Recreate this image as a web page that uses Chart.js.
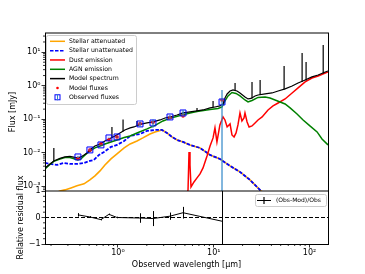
<!DOCTYPE html>
<html>
<head>
<meta charset="utf-8">
<script src="https://cdn.jsdelivr.net/npm/chart.js@4.4.1/dist/chart.umd.min.js"></script>
<style>
  html, body { margin: 0; padding: 0; background: #fff; }
  #wrap { width: 365px; height: 274px; }
</style>
</head>
<body>
<div id="wrap"><canvas id="sedChart" width="365" height="274"></canvas></div>
<script>
// Model spectrum (continuum), wavelength in micron, flux in mJy
const modelWave = [0.173,0.195,0.214,0.248,0.279,0.315,0.355,0.382,0.410,0.442,0.474,0.522,0.575,0.649,0.731,0.845,0.930,1.05,1.18,1.34,1.47,1.70,2.01,2.32,2.75,3.10,3.49,4.14,4.78,5.65,6.69,7.73,9.15,10.3,11.6,12.5,13.1,13.8,14.8,15.9,17.5,18.8,21.2,22.8,24.5,27.0,29.0,34.4,40.6,47.0,55.6,65.8,76.0,90.0,106,123,146,156];
const modelFlux = [0.00355,0.00467,0.00574,0.00681,0.00755,0.00782,0.00730,0.00705,0.00755,0.00865,0.00993,0.0131,0.0160,0.0184,0.0226,0.0278,0.0318,0.0391,0.0481,0.0551,0.0590,0.0700,0.0776,0.0831,0.0953,0.109,0.117,0.134,0.154,0.165,0.177,0.189,0.217,0.232,0.249,0.285,0.430,0.566,0.695,0.745,0.695,0.606,0.461,0.402,0.416,0.493,0.528,0.566,0.606,0.695,0.80,0.98,1.20,1.48,1.82,2.08,2.56,2.74];

// Emission lines on top of the model spectrum
const lineWave = [0.214,0.865,1.13,1.58,6.69,9.84,16.7,25.1,30.5,54.3,83.7,92.1,139];
const lineBase = [0.00574,0.0287,0.0434,0.0654,0.177,0.225,0.72,0.416,0.528,0.77,1.29,1.43,2.31];
const linePeak = [0.0140,0.059,0.0986,0.089,0.217,0.351,1.20,1.29,1.48,3.86,9.4,5.07,16.3];

// AGN emission
const agnWave = [0.173,0.195,0.214,0.248,0.279,0.315,0.355,0.382,0.410,0.442,0.474,0.522,0.575,0.649,0.731,0.845,0.977,1.16,1.34,1.58,2.01,2.44,2.95,3.49,4.45,5.65,6.69,9.15,11.1,12.2,13.1,14.1,15.5,17.1,18.8,21.2,22.8,25.1,29.0,34.4,38.7,49.3,55.6,62.7,74.1,85.7,101,120,135,156];
const agnFlux = [0.00332,0.00452,0.00555,0.00658,0.00730,0.00730,0.00658,0.00615,0.00658,0.00809,0.00960,0.0118,0.0140,0.0160,0.0184,0.0211,0.0242,0.0287,0.0318,0.0391,0.0515,0.0654,0.0890,0.106,0.130,0.154,0.171,0.196,0.210,0.232,0.351,0.493,0.628,0.586,0.493,0.375,0.327,0.363,0.446,0.461,0.430,0.327,0.285,0.217,0.144,0.0953,0.0632,0.0419,0.0259,0.0172];

// Dust emission
const dustWave = [5.26,5.39,5.52,5.65,5.79,6.22,6.69,7.19,7.73,8.51,9.15,9.84,10.3,10.8,11.6,12.5,13.1,13.8,14.8,15.5,16.3,17.1,17.9,18.8,19.7,20.7,21.2,22.3,23.4,25.1,27.0,29.0,32.0,36.9,41.6,47.0,55.6,65.8,76.0,90.0,106,123,146,156];
const dustFlux = [0.000551,0.000787,0.0106,0.00436,0.000966,0.00136,0.00179,0.00236,0.00355,0.00809,0.0160,0.0278,0.0551,0.0211,0.0677,0.117,0.0953,0.0590,0.0725,0.0341,0.0297,0.0391,0.0677,0.154,0.0891,0.109,0.154,0.0831,0.0590,0.0632,0.0776,0.0953,0.117,0.189,0.249,0.305,0.402,0.606,0.855,1.29,1.69,1.94,2.39,2.56];

// Stellar unattenuated
const unattWave = [0.173,0.195,0.231,0.273,0.315,0.373,0.442,0.509,0.561,0.633,0.714,0.845,0.977,1.16,1.34,1.70,2.01,2.44,2.88,3.25,3.66,4.14,4.78,5.65,7.19,9.15,11.6,14.8,18.8,23.9,31.1,38.7];
const unattFlux = [0.00500,0.00467,0.00436,0.00500,0.00467,0.00467,0.00500,0.00574,0.00615,0.00865,0.0106,0.0150,0.0172,0.0226,0.0318,0.0365,0.0449,0.0481,0.0481,0.0391,0.0297,0.0242,0.0211,0.0172,0.0140,0.00865,0.00658,0.00407,0.00270,0.00156,0.000734,0.000455];

// Stellar attenuated
const attWave = [0.214,0.248,0.279,0.323,0.373,0.442,0.509,0.575,0.649,0.731,0.845,0.977,1.16,1.34,1.58,1.82,2.16,2.44,2.88,3.25,3.66,4.14,4.78,5.65,7.19,9.15,11.6,14.8,18.8,23.9,31.1,38.7];
const attFlux = [0.000598,0.000734,0.000787,0.000902,0.00104,0.00119,0.00156,0.00205,0.00289,0.00436,0.00658,0.00927,0.0140,0.0184,0.0226,0.0278,0.0365,0.0419,0.0481,0.0391,0.0297,0.0242,0.0211,0.0172,0.0140,0.00865,0.00658,0.00407,0.00270,0.00156,0.000734,0.000455];

// Photometry
const obsWave = [0.382,0.509,0.664,0.805,0.977,1.70,2.32,3.49,4.78,12.2];
const obsFlux = [0.00755,0.0122,0.0172,0.0278,0.0297,0.0725,0.0776,0.117,0.154,0.327];
const obsErr = [0.0005,0.0004,0.0005,0.0008,0.0009,0.013,0.022,0.016,0.034,0.42];
const modelPts = [0.0068,0.0120,0.0186,0.0245,0.0297,0.0740,0.0807,0.111,0.126,0.373];
const residual = [0.10,0.02,-0.08,0.12,0.0,-0.02,-0.04,0.05,0.18,-0.14];

// Ticks
const xMajor = [1, 10, 100];
const xLabels = ["10\u2070", "10\u00b9", "10\u00b2"];
const yMajor = [0.001, 0.01, 0.1, 1, 10];
const yLabels = ["10\u207b\u00b3", "10\u207b\u00b2", "10\u207b\u00b9", "10\u2070", "10\u00b9"];
const resMajor = [-1, 0, 1];
const resLabels = ["\u22121", "0", "1"];

const FONT = "DejaVu Sans";
const pts = (xs, ys) => xs.map((x, i) => ({ x: x, y: ys[i] }));

function spikePoints() {
  const out = [];
  lineWave.forEach((w, i) => {
    out.push({ x: w, y: lineBase[i] });
    out.push({ x: w, y: linePeak[i] });
    out.push({ x: w, y: null });
  });
  return out;
}

// clip each dataset to its own panel
const panelClip = {
  id: "panelClip",
  beforeDatasetDraw(chart, args) {
    const ys = args.meta.yScale;
    const a = chart.chartArea;
    chart.ctx.save();
    chart.ctx.beginPath();
    chart.ctx.rect(a.left, ys.top, a.right - a.left, ys.bottom - ys.top);
    chart.ctx.clip();
  },
  afterDatasetDraw(chart) {
    chart.ctx.restore();
  }
};

// error bars, minor ticks, frame, legends and axis titles
const decorations = {
  id: "decorations",
  afterDatasetsDraw(chart) {
    const { ctx, chartArea: a, scales } = chart;
    const x = scales.x, y = scales.y, yr = scales.yres;

    // observed errors
    ctx.save();
    ctx.beginPath();
    ctx.rect(a.left, y.top, a.right - a.left, y.bottom - y.top);
    ctx.clip();
    ctx.strokeStyle = "#2f86c8";
    ctx.lineWidth = 1.2;
    obsWave.forEach((w, i) => {
      const px = x.getPixelForValue(w);
      const lo = obsFlux[i] - obsErr[i];
      const y1 = lo > 0 ? y.getPixelForValue(lo) : y.bottom + 5;
      const y2 = y.getPixelForValue(obsFlux[i] + obsErr[i]);
      ctx.beginPath(); ctx.moveTo(px, y1); ctx.lineTo(px, y2); ctx.stroke();
    });
    ctx.restore();

    // residual errors
    ctx.save();
    ctx.beginPath();
    ctx.rect(a.left, yr.top, a.right - a.left, yr.bottom - yr.top);
    ctx.clip();
    ctx.strokeStyle = "#000";
    ctx.lineWidth = 1;
    obsWave.forEach((w, i) => {
      const px = Math.round(x.getPixelForValue(w)) + 0.5;
      const e = obsErr[i] / obsFlux[i];
      ctx.beginPath();
      ctx.moveTo(px, yr.getPixelForValue(residual[i] - e));
      ctx.lineTo(px, yr.getPixelForValue(residual[i] + e));
      ctx.stroke();
    });
    ctx.restore();
  },
  afterDraw(chart) {
    const { ctx, chartArea: a, scales } = chart;
    const x = scales.x, y = scales.y, yr = scales.yres;
    ctx.save();
    ctx.strokeStyle = "#000";
    ctx.lineWidth = 0.8;

    // minor ticks
    ctx.beginPath();
    for (let e = -1; e <= 2; e++) {
      for (let k = 2; k <= 9; k++) {
        const v = k * Math.pow(10, e);
        if (v < x.min || v > x.max) continue;
        const px = x.getPixelForValue(v);
        ctx.moveTo(px, a.bottom); ctx.lineTo(px, a.bottom + 2);
      }
    }
    for (let e = -4; e <= 1; e++) {
      for (let k = 2; k <= 9; k++) {
        const v = k * Math.pow(10, e);
        if (v < y.min || v > y.max) continue;
        const py = y.getPixelForValue(v);
        ctx.moveTo(a.left, py); ctx.lineTo(a.left - 2, py);
      }
    }
    for (let v = -0.8; v < 0.9; v += 0.2) {
      if (Math.abs(v) < 0.01) continue;
      const py = yr.getPixelForValue(v);
      ctx.moveTo(a.left, py); ctx.lineTo(a.left - 2, py);
    }
    ctx.stroke();

    // frame
    ctx.lineWidth = 1;
    ctx.beginPath();
    ctx.moveTo(a.left + 0.5, y.top); ctx.lineTo(a.left + 0.5, a.bottom);
    ctx.moveTo(a.right + 0.5, y.top); ctx.lineTo(a.right + 0.5, a.bottom);
    ctx.moveTo(a.left, y.top); ctx.lineTo(a.right + 1, y.top);
    ctx.moveTo(a.left, y.bottom); ctx.lineTo(a.right + 1, y.bottom);
    ctx.moveTo(a.left, a.bottom + 0.5); ctx.lineTo(a.right + 1, a.bottom + 0.5);
    ctx.stroke();

    // main legend
    const lx = 46.5, ly = 35.5, lw = 90, lh = 69;
    ctx.fillStyle = "rgba(255,255,255,0.85)";
    ctx.strokeStyle = "#cccccc";
    ctx.lineWidth = 1;
    ctx.beginPath();
    ctx.roundRect(lx, ly, lw, lh, 2);
    ctx.fill(); ctx.stroke();

    const entries = [
      { label: "Stellar attenuated", type: "line", color: "#ffa500" },
      { label: "Stellar unattenuated", type: "dash", color: "#0000ff" },
      { label: "Dust emission", type: "line", color: "#ff0000" },
      { label: "AGN emission", type: "line", color: "#008000" },
      { label: "Model spectrum", type: "line", color: "#000000" },
      { label: "Model fluxes", type: "dot", color: "#ff0000" },
      { label: "Observed fluxes", type: "square", color: "#0000ff" }
    ];
    ctx.font = "6.2px '" + FONT + "'";
    ctx.textBaseline = "middle";
    ctx.textAlign = "left";
    entries.forEach((en, i) => {
      const cy = 41.3 + i * 9.33;
      ctx.save();
      if (en.type === "line" || en.type === "dash") {
        ctx.strokeStyle = en.color;
        ctx.lineWidth = 1.5;
        if (en.type === "dash") ctx.setLineDash([3.5, 1.5]);
        ctx.beginPath(); ctx.moveTo(50, cy); ctx.lineTo(65, cy); ctx.stroke();
      } else if (en.type === "dot") {
        ctx.fillStyle = en.color;
        ctx.beginPath(); ctx.arc(57.5, cy, 1.3, 0, Math.PI * 2); ctx.fill();
      } else {
        ctx.strokeStyle = en.color;
        ctx.lineWidth = 1;
        ctx.strokeRect(55, cy - 2.5, 5, 5);
        ctx.strokeStyle = "#2f86c8";
        ctx.beginPath(); ctx.moveTo(57.5, cy - 3); ctx.lineTo(57.5, cy + 3); ctx.stroke();
      }
      ctx.restore();
      ctx.fillStyle = "#000";
      ctx.fillText(en.label, 69, cy);
    });

    // residual legend
    ctx.fillStyle = "rgba(255,255,255,0.85)";
    ctx.strokeStyle = "#cccccc";
    ctx.beginPath();
    ctx.roundRect(255.5, 194.5, 71, 12, 2);
    ctx.fill(); ctx.stroke();
    ctx.strokeStyle = "#000";
    ctx.lineWidth = 1.2;
    ctx.beginPath();
    ctx.moveTo(257, 200.5); ctx.lineTo(271, 200.5);
    ctx.moveTo(264, 197); ctx.lineTo(264, 204);
    ctx.stroke();
    ctx.fillStyle = "#000";
    ctx.font = "6px '" + FONT + "'";
    ctx.fillText("(Obs-Mod)/Obs", 276, 200.5);

    // axis titles
    ctx.font = "8px '" + FONT + "'";
    ctx.textAlign = "center";
    ctx.textBaseline = "middle";
    ctx.fillText("Observed wavelength [\u03bcm]", (a.left + a.right) / 2, 265);
    ctx.save();
    ctx.translate(13, (y.top + y.bottom) / 2);
    ctx.rotate(-Math.PI / 2);
    ctx.fillText("Flux [mJy]", 0, 0);
    ctx.restore();
    ctx.save();
    ctx.translate(20.5, (yr.top + yr.bottom) / 2);
    ctx.rotate(-Math.PI / 2);
    ctx.fillText("Relative residual flux", 0, 0);
    ctx.restore();
    ctx.restore();
  }
};

const tickGrid = {
  display: true,
  drawOnChartArea: false,
  drawTicks: true,
  tickLength: 3.5,
  tickWidth: 0.8,
  tickColor: "#000"
};

new Chart(document.getElementById("sedChart"), {
  type: "line",
  data: {
    datasets: [
      {
        label: "Observed fluxes", data: pts(obsWave, obsFlux), yAxisID: "y", order: 1,
        showLine: false, pointStyle: "rect", pointRadius: 4.2, borderColor: "#0000ff",
        backgroundColor: "rgba(0,0,255,0.08)", borderWidth: 1
      },
      {
        label: "Model fluxes", data: pts(obsWave, modelPts), yAxisID: "y", order: 2,
        showLine: false, pointStyle: "circle", pointRadius: 1.8, borderWidth: 0,
        backgroundColor: "#ff0000", borderColor: "#ff0000"
      },
      {
        label: "lines", data: spikePoints(), yAxisID: "y", order: 3,
        borderColor: "#000", borderWidth: 1.2, pointRadius: 0, spanGaps: false
      },
      {
        label: "Model spectrum", data: pts(modelWave, modelFlux), yAxisID: "y", order: 4,
        borderColor: "#000", borderWidth: 1.2, pointRadius: 0
      },
      {
        label: "AGN emission", data: pts(agnWave, agnFlux), yAxisID: "y", order: 5,
        borderColor: "#008000", borderWidth: 1.5, pointRadius: 0
      },
      {
        label: "Dust emission", data: pts(dustWave, dustFlux), yAxisID: "y", order: 6,
        borderColor: "#ff0000", borderWidth: 1.5, pointRadius: 0
      },
      {
        label: "Stellar unattenuated", data: pts(unattWave, unattFlux), yAxisID: "y", order: 7,
        borderColor: "#0000ff", borderWidth: 1.8, borderDash: [3.5, 1.5], pointRadius: 0
      },
      {
        label: "Stellar attenuated", data: pts(attWave, attFlux), yAxisID: "y", order: 8,
        borderColor: "#ffa500", borderWidth: 1.6, pointRadius: 0
      },
      {
        label: "(Obs-Mod)/Obs", data: pts(obsWave, residual), yAxisID: "yres", order: 9,
        borderColor: "#000", borderWidth: 1, pointRadius: 0
      },
      {
        label: "zero", data: [{ x: 0.173, y: 0 }, { x: 156, y: 0 }], yAxisID: "yres", order: 10,
        borderColor: "#000", borderWidth: 1, borderDash: [4, 2], pointRadius: 0
      }
    ]
  },
  options: {
    responsive: false,
    animation: false,
    layout: { padding: { left: 0, right: 37, top: 33, bottom: 0 } },
    plugins: { legend: { display: false }, tooltip: { enabled: false } },
    scales: {
      x: {
        type: "logarithmic", min: 0.173, max: 156, position: "bottom",
        grid: tickGrid, border: { display: false },
        afterBuildTicks: (axis) => { axis.ticks = xMajor.map(v => ({ value: v })); },
        afterFit: (axis) => { axis.height = 30; },
        ticks: {
          autoSkip: false, maxRotation: 0, padding: 1, color: "#000",
          font: { family: FONT, size: 8 },
          callback: (v) => xLabels[xMajor.indexOf(v)]
        }
      },
      yres: {
        type: "linear", min: -1, max: 1, position: "left", stack: "panels", stackWeight: 53,
        grid: tickGrid, border: { display: false },
        afterBuildTicks: (axis) => { axis.ticks = resMajor.map(v => ({ value: v })); },
        afterFit: (axis) => { axis.width = 45; },
        ticks: {
          padding: 1, color: "#000", font: { family: FONT, size: 8 },
          callback: (v) => resLabels[resMajor.indexOf(v)]
        }
      },
      y: {
        type: "logarithmic", min: 0.00073, max: 37, position: "left", stack: "panels", stackWeight: 158,
        grid: tickGrid, border: { display: false },
        afterBuildTicks: (axis) => { axis.ticks = yMajor.map(v => ({ value: v })); },
        afterFit: (axis) => { axis.width = 45; },
        ticks: {
          autoSkip: false, padding: 1, color: "#000", font: { family: FONT, size: 8 },
          callback: (v) => yLabels[yMajor.indexOf(v)]
        }
      }
    }
  },
  plugins: [panelClip, decorations]
});
</script>
</body>
</html>
